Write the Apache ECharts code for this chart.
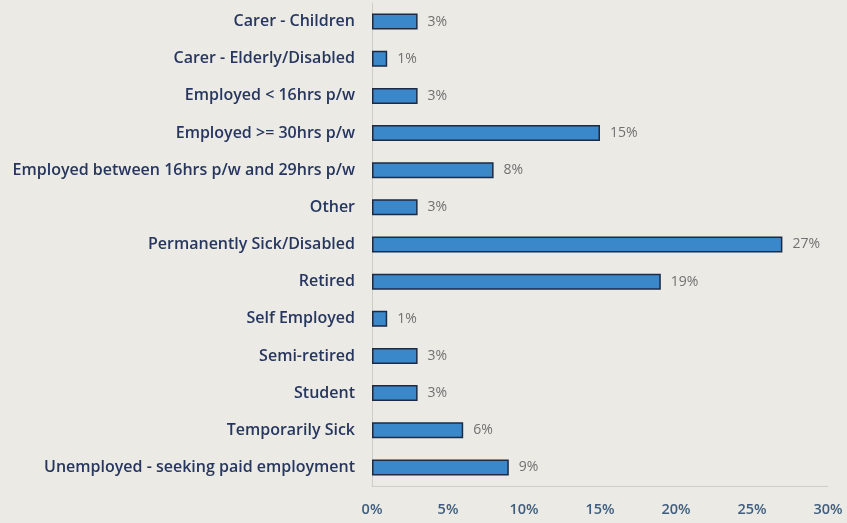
<!DOCTYPE html>
<html>
<head>
<meta charset="utf-8">
<script src="https://cdn.jsdelivr.net/npm/echarts@6/dist/echarts.min.js"></script>
<style>
  html, body { margin: 0; padding: 0; background: #ebeae5; }
  #chart { width: 847px; height: 523px; }
</style>
</head>
<body>
<div id="chart"></div>
<script>
// Employment status of respondents (percent of total)
const categories = [
  'Carer - Children',
  'Carer - Elderly/Disabled',
  'Employed < 16hrs p/w',
  'Employed >= 30hrs p/w',
  'Employed between 16hrs p/w and 29hrs p/w',
  'Other',
  'Permanently Sick/Disabled',
  'Retired',
  'Self Employed',
  'Semi-retired',
  'Student',
  'Temporarily Sick',
  'Unemployed - seeking paid employment'
];
const percentages = [3, 1, 3, 15, 8, 3, 27, 19, 1, 3, 3, 6, 9];
const tickLabels = ['0%', '5%', '10%', '15%', '20%', '25%', '30%'];

const chart = echarts.init(document.getElementById('chart'));
chart.setOption({
  backgroundColor: '#ebeae5',
  animation: false,
  grid: { left: 372, right: 19, top: 3, bottom: 37, containLabel: false },
  xAxis: {
    type: 'value',
    min: 0,
    max: 30,
    interval: 5,
    axisLine: { show: true, lineStyle: { color: '#cfcdc8', width: 1 } },
    axisTick: { show: false },
    splitLine: { show: false },
    axisLabel: {
      margin: 16,
      color: '#3f5d7d',
      fontFamily: 'Open Sans',
      fontWeight: 600,
      fontSize: 14.5,
      formatter: v => tickLabels[v / 5]
    }
  },
  yAxis: {
    type: 'category',
    inverse: true,
    data: categories,
    axisLine: { show: true, lineStyle: { color: '#cfcdc8', width: 1 } },
    axisTick: { show: false },
    axisLabel: {
      margin: 17,
      color: '#26365e',
      fontFamily: 'Open Sans',
      fontWeight: 600,
      fontSize: 16
    }
  },
  series: [{
    type: 'bar',
    data: percentages,
    barWidth: 16,
    itemStyle: { color: '#3a87c9', borderColor: '#1c2a44', borderWidth: 1.5 },
    label: {
      show: true,
      position: 'right',
      distance: 10,
      color: '#707070',
      fontFamily: 'Open Sans',
      fontSize: 14,
      formatter: p => p.value + '%'
    }
  }]
});
</script>
</body>
</html>
